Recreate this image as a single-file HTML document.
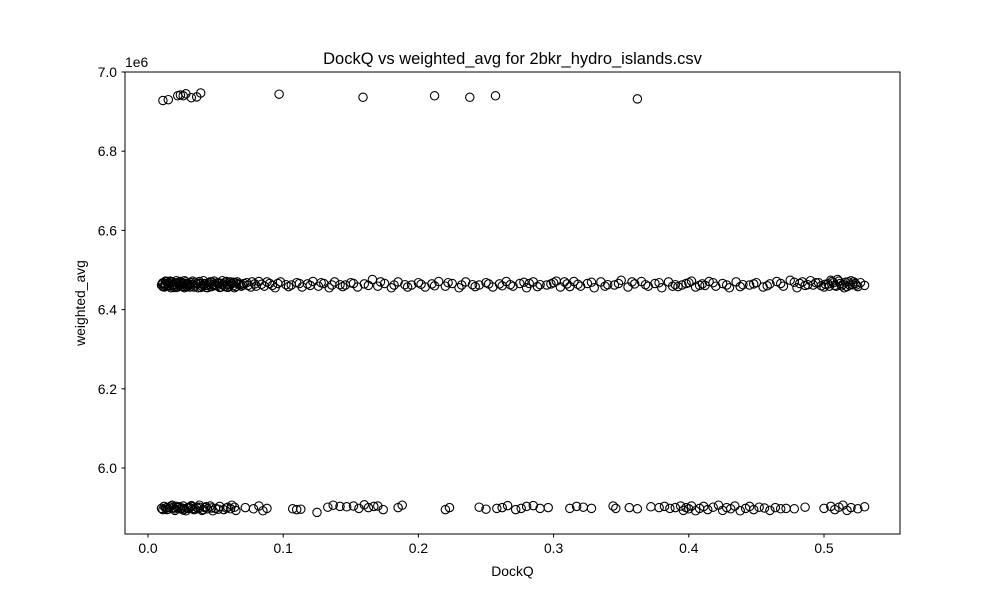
<!DOCTYPE html>
<html><head><meta charset="utf-8"><style>
body{margin:0;background:#fff;}
svg{display:block;font-family:"Liberation Sans","DejaVu Sans",sans-serif;}
</style></head><body>
<svg id="chart" width="1000" height="600" viewBox="0 0 1000 600" xmlns="http://www.w3.org/2000/svg">
<rect width="1000" height="600" fill="#fff"/>
<text x="512.5" y="64" text-anchor="middle" font-size="16.5">DockQ vs weighted_avg for 2bkr_hydro_islands.csv</text>
<text x="512.5" y="576" text-anchor="middle" font-size="13.9">DockQ</text>
<text x="85" y="303" text-anchor="middle" font-size="13.9" transform="rotate(-90 85 303)">weighted_avg</text>
<text x="125" y="67" font-size="13.9">1e6</text>
<g id="marks"></g>
<g id="axes"></g>
<rect x="125" y="72" width="775" height="462" fill="none" stroke="#000" stroke-width="1"/>
</svg>
<script>
const xTicks=[0.0,0.1,0.2,0.3,0.4,0.5];
const xTickLabels=["0.0","0.1","0.2","0.3","0.4","0.5"];
const yTicks=[6.0,6.2,6.4,6.6,6.8,7.0];
const yTickLabels=["6.0","6.2","6.4","6.6","6.8","7.0"];
const topPoints=[[0.011,6.928],[0.015,6.930],[0.022,6.940],[0.024,6.942],[0.026,6.940],[0.028,6.945],[0.032,6.935],[0.036,6.937],[0.039,6.947],[0.097,6.944],[0.159,6.936],[0.212,6.940],[0.238,6.936],[0.257,6.940],[0.362,6.932]];
const midPoints=[[0.010,6.462],[0.011,6.468],[0.012,6.457],[0.013,6.465],[0.014,6.471],[0.015,6.459],[0.016,6.466],[0.017,6.455],[0.018,6.470],[0.019,6.463],
[0.020,6.462],[0.021,6.468],[0.022,6.457],[0.023,6.465],[0.024,6.471],[0.025,6.459],[0.026,6.466],[0.027,6.455],[0.028,6.470],[0.029,6.463],
[0.030,6.462],[0.032,6.468],[0.034,6.457],[0.036,6.465],[0.038,6.471],[0.040,6.459],[0.042,6.466],[0.044,6.455],[0.046,6.470],[0.048,6.463],
[0.050,6.462],[0.052,6.468],[0.054,6.457],[0.056,6.465],[0.058,6.471],[0.060,6.459],[0.062,6.466],[0.064,6.455],[0.066,6.470],[0.068,6.463],
[0.070,6.462],[0.073,6.468],[0.076,6.457],[0.079,6.465],[0.082,6.471],[0.086,6.459],[0.090,6.466],[0.094,6.455],[0.098,6.470],[0.102,6.463],
[0.106,6.462],[0.110,6.468],[0.114,6.457],[0.118,6.465],[0.122,6.471],[0.126,6.459],[0.130,6.466],[0.134,6.455],[0.138,6.470],[0.142,6.463],
[0.146,6.462],[0.150,6.468],[0.155,6.457],[0.160,6.465],[0.166,6.476],[0.170,6.459],[0.175,6.466],[0.180,6.455],[0.185,6.470],[0.190,6.463],
[0.195,6.462],[0.200,6.468],[0.205,6.457],[0.210,6.465],[0.215,6.471],[0.220,6.459],[0.225,6.466],[0.230,6.455],[0.235,6.470],[0.240,6.463],
[0.245,6.462],[0.250,6.468],[0.255,6.457],[0.260,6.465],[0.265,6.471],[0.270,6.459],[0.275,6.466],[0.280,6.455],[0.285,6.470],[0.290,6.463],
[0.295,6.462],[0.300,6.468],[0.305,6.457],[0.310,6.465],[0.315,6.471],[0.320,6.459],[0.325,6.466],[0.330,6.455],[0.335,6.470],[0.340,6.463],
[0.345,6.462],[0.350,6.474],[0.355,6.457],[0.360,6.465],[0.365,6.471],[0.370,6.459],[0.375,6.466],[0.380,6.455],[0.385,6.470],[0.390,6.463],
[0.395,6.462],[0.400,6.468],[0.405,6.457],[0.410,6.465],[0.415,6.471],[0.420,6.459],[0.425,6.466],[0.430,6.455],[0.435,6.470],[0.440,6.463],
[0.445,6.462],[0.450,6.468],[0.455,6.457],[0.460,6.465],[0.465,6.471],[0.470,6.459],[0.475,6.474],[0.480,6.455],[0.484,6.470],[0.488,6.463],
[0.492,6.462],[0.496,6.468],[0.500,6.457],[0.503,6.465],[0.506,6.471],[0.509,6.459],[0.512,6.466],[0.515,6.455],[0.518,6.470],[0.521,6.463],
[0.524,6.462],[0.527,6.468],[0.530,6.461],
[0.011,6.458],[0.013,6.472],[0.015,6.461],[0.017,6.469],[0.019,6.456],[0.021,6.473],[0.023,6.460],[0.025,6.467],[0.027,6.473],[0.029,6.458],
[0.031,6.464],[0.033,6.472],[0.035,6.460],[0.037,6.467],[0.039,6.456],[0.041,6.473],[0.043,6.461],[0.045,6.468],[0.047,6.458],[0.049,6.472],
[0.051,6.460],[0.053,6.467],[0.055,6.473],[0.057,6.458],[0.059,6.464],[0.061,6.470],[0.063,6.460],[0.065,6.467],
[0.262,6.460],[0.282,6.466],[0.302,6.472],[0.312,6.458],[0.392,6.458],[0.402,6.472],[0.412,6.461],[0.482,6.466],[0.490,6.473],[0.498,6.460],
[0.505,6.474],[0.508,6.461],[0.511,6.472],[0.514,6.464],[0.517,6.458],[0.520,6.473],[0.523,6.466]];
const midExtra=[[0.0105,6.466],[0.0125,6.461],[0.0145,6.467],[0.0165,6.472],[0.0185,6.460],[0.0205,6.456],[0.0225,6.469],[0.0245,6.463],[0.0265,6.458],[0.0285,6.466],
[0.031,6.457],[0.033,6.463],[0.035,6.469],[0.037,6.455],[0.039,6.466],[0.041,6.462],[0.043,6.456],[0.045,6.464],[0.047,6.470],[0.049,6.460],
[0.051,6.467],[0.053,6.456],[0.055,6.463],[0.057,6.469],[0.059,6.456],[0.061,6.463],[0.063,6.469],[0.065,6.458],[0.067,6.465],[0.069,6.459],
[0.071,6.466],[0.074,6.461],[0.077,6.470],[0.080,6.459],[0.084,6.464],[0.088,6.470],[0.092,6.461],[0.096,6.466],[0.104,6.458],[0.112,6.466],
[0.120,6.461],[0.128,6.468],[0.136,6.462],[0.144,6.458],[0.152,6.466],[0.163,6.461],[0.172,6.470],[0.182,6.462],[0.192,6.457],[0.202,6.464],
[0.212,6.460],[0.222,6.468],[0.232,6.462],[0.242,6.458],[0.252,6.465],[0.268,6.463],[0.278,6.469],[0.288,6.458],[0.298,6.465],[0.308,6.470],
[0.318,6.464],[0.328,6.469],[0.338,6.459],[0.348,6.466],[0.358,6.470],[0.368,6.463],[0.378,6.468],[0.388,6.459],[0.398,6.466],[0.408,6.461],
[0.418,6.468],[0.428,6.462],[0.438,6.458],[0.448,6.465],[0.458,6.460],[0.468,6.466],[0.478,6.469],[0.486,6.461],[0.494,6.468],[0.501,6.464],
[0.504,6.459],[0.507,6.468],[0.510,6.476],[0.513,6.460],[0.516,6.469],[0.519,6.462],[0.522,6.470],[0.525,6.458]];
const botPoints=[[0.010,5.898],[0.012,5.903],[0.014,5.895],[0.016,5.901],[0.018,5.906],[0.020,5.893],[0.022,5.900],[0.024,5.897],[0.026,5.904],[0.028,5.892],
[0.030,5.898],[0.032,5.903],[0.034,5.895],[0.036,5.901],[0.038,5.906],[0.040,5.893],[0.042,5.900],[0.044,5.897],[0.046,5.904],[0.048,5.892],
[0.050,5.898],[0.053,5.903],[0.056,5.895],[0.059,5.901],[0.062,5.906],[0.065,5.893],[0.072,5.900],[0.078,5.897],[0.082,5.904],[0.085,5.892],
[0.088,5.898],[0.107,5.897],[0.110,5.895],[0.113,5.896],[0.125,5.888],[0.133,5.901],[0.137,5.906],[0.142,5.903],[0.147,5.902],[0.152,5.904],
[0.156,5.898],[0.160,5.907],[0.163,5.900],[0.167,5.903],[0.170,5.904],[0.174,5.895],[0.185,5.900],[0.188,5.906],[0.220,5.895],[0.223,5.900],
[0.245,5.901],[0.250,5.896],[0.258,5.898],[0.262,5.900],[0.266,5.905],[0.272,5.895],[0.276,5.898],[0.280,5.903],[0.285,5.905],[0.290,5.898],
[0.296,5.900],[0.312,5.898],[0.317,5.903],[0.322,5.901],[0.328,5.898],[0.344,5.904],[0.346,5.898],[0.356,5.900],[0.362,5.897],[0.372,5.902],
[0.378,5.900],[0.382,5.903],[0.386,5.898],[0.390,5.900],[0.394,5.904],[0.396,5.893],[0.398,5.900],[0.400,5.897],[0.402,5.904],[0.405,5.892],
[0.408,5.898],[0.411,5.903],[0.414,5.895],[0.418,5.901],[0.422,5.906],[0.425,5.893],[0.428,5.900],[0.431,5.897],[0.434,5.904],[0.438,5.892],
[0.442,5.898],[0.445,5.903],[0.448,5.895],[0.452,5.901],[0.456,5.899],[0.460,5.893],[0.464,5.900],[0.468,5.897],[0.472,5.898],[0.478,5.897],
[0.486,5.901],[0.500,5.898],[0.505,5.903],[0.508,5.895],[0.511,5.901],[0.514,5.906],[0.517,5.893],[0.520,5.900],[0.525,5.897],[0.530,5.902],
[0.011,5.895],[0.014,5.900],[0.017,5.904],[0.020,5.897],[0.023,5.902],[0.026,5.894],[0.029,5.899],[0.032,5.905],[0.035,5.896],[0.038,5.901],[0.041,5.895],
[0.013,5.899],[0.015,5.896],[0.019,5.900],[0.021,5.903],[0.025,5.899],[0.027,5.897],[0.031,5.900],[0.033,5.897],[0.037,5.898],[0.043,5.902],[0.047,5.899],[0.052,5.896],[0.058,5.899],[0.061,5.897],[0.064,5.901]];
const X0=148,XS=1352,Y0=468,YS=396;
function xScale(v){return X0+v*XS;}
function yScale(v){return Y0-(v-6.0)*YS;}
const NS="http://www.w3.org/2000/svg";
const marks=document.getElementById('marks');
const axes=document.getElementById('axes');
function drawSet(pts,name){
  pts.forEach(p=>{
    const c=document.createElementNS(NS,'circle');
    c.setAttribute('cx',xScale(p[0]).toFixed(1));
    c.setAttribute('cy',yScale(p[1]).toFixed(1));
    c.setAttribute('r','4.2');
    c.setAttribute('fill','none');
    c.setAttribute('stroke','#000');
    c.setAttribute('stroke-width','1.1');
    
    
    marks.appendChild(c);
  });
}
drawSet(topPoints,'point-top-band');
drawSet(midPoints,'point-middle-band');
drawSet(midExtra,'point-middle-band');
drawSet(botPoints,'point-bottom-band');
xTicks.forEach((t,i)=>{
  const x=xScale(t);
  const l=document.createElementNS(NS,'line');
  l.setAttribute('x1',x);l.setAttribute('x2',x);l.setAttribute('y1',534);l.setAttribute('y2',537.5);
  l.setAttribute('stroke','#000');
  
  
  axes.appendChild(l);
  const tx=document.createElementNS(NS,'text');
  tx.setAttribute('x',x);tx.setAttribute('y',553);tx.setAttribute('text-anchor','middle');tx.setAttribute('font-size','13.9');
  tx.textContent=xTickLabels[i];
  
  
  axes.appendChild(tx);
});
yTicks.forEach((t,i)=>{
  const y=yScale(t);
  const l=document.createElementNS(NS,'line');
  l.setAttribute('x1',121.5);l.setAttribute('x2',125);l.setAttribute('y1',y);l.setAttribute('y2',y);
  l.setAttribute('stroke','#000');
  
  
  axes.appendChild(l);
  const tx=document.createElementNS(NS,'text');
  tx.setAttribute('x',117);tx.setAttribute('y',y+5);tx.setAttribute('text-anchor','end');tx.setAttribute('font-size','13.9');
  tx.textContent=yTickLabels[i];
  
  
  axes.appendChild(tx);
});
</script>
</body></html>
